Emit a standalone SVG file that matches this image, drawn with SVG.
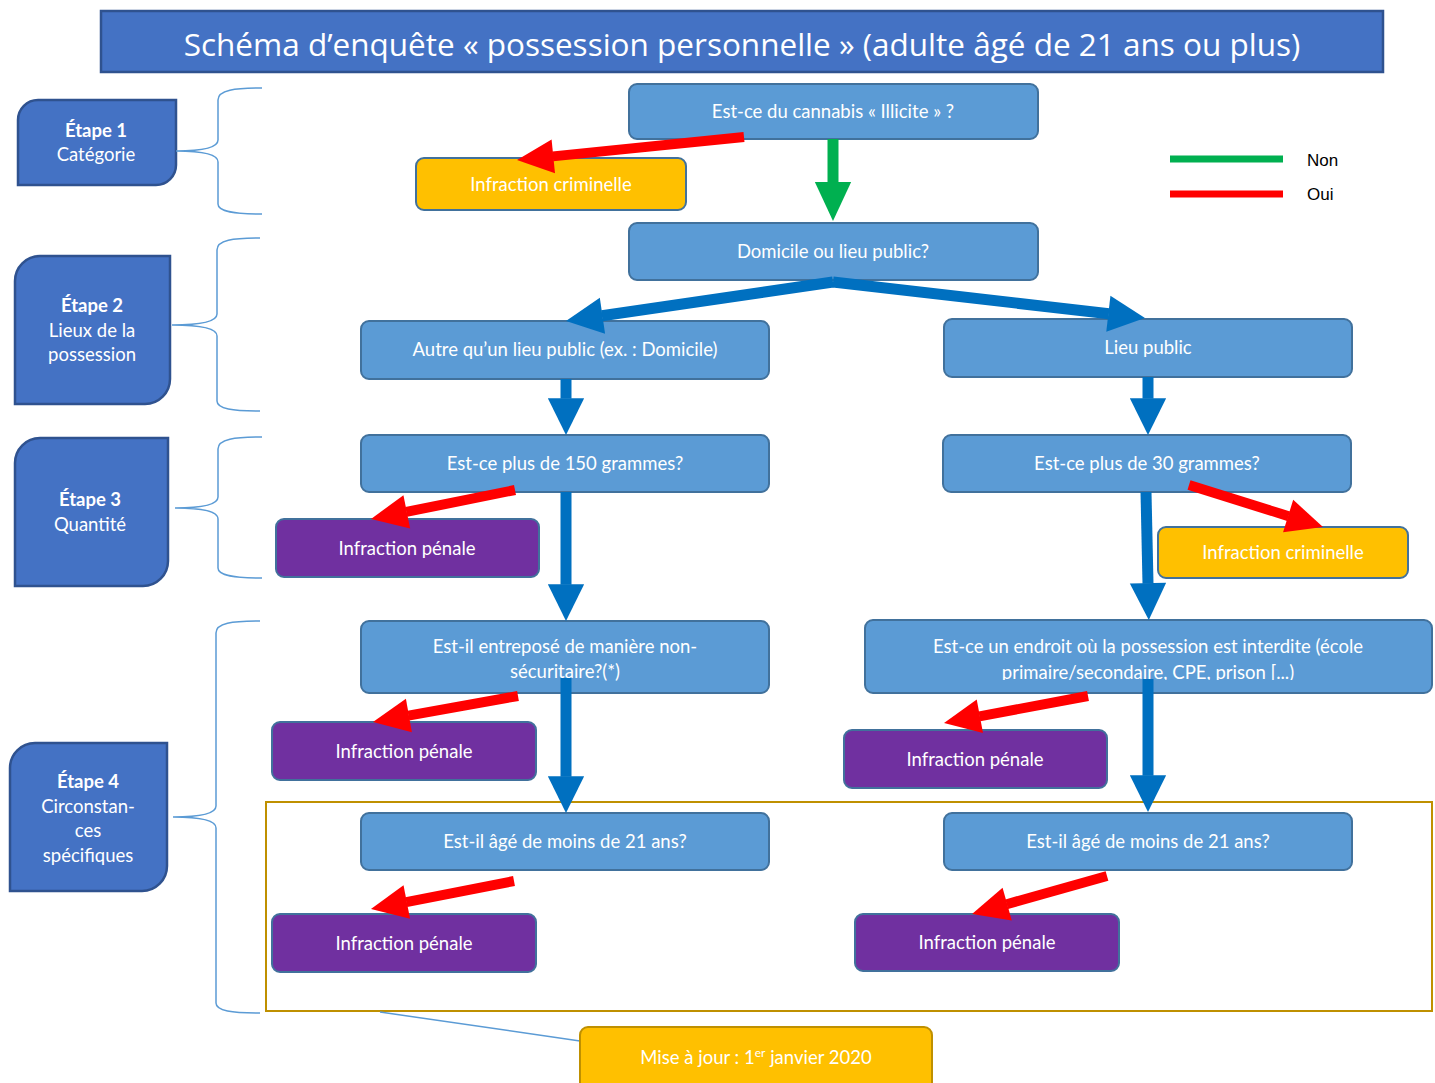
<svg xmlns="http://www.w3.org/2000/svg" width="1435" height="1083" viewBox="0 0 1435 1083">
<style>
.title{fill:#4472C4;stroke:#2F528F;stroke-width:2.5}
.step{fill:#4472C4;stroke:#2F528F;stroke-width:2.5}
.q{fill:#5B9BD5;stroke:#41719C;stroke-width:2}
.crim{fill:#FFC000;stroke:#41719C;stroke-width:2}
.pen{fill:#7030A0;stroke:#41719C;stroke-width:2}
.maj{fill:#FFC000;stroke:#BF9000;stroke-width:2}
.brace{fill:none;stroke:#5B9BD5;stroke-width:1.5}
.t{font-family:Lato,"Open Sans","Liberation Sans",sans-serif;font-size:18.5px;fill:#FFFFFF;text-anchor:middle}
.tb{font-weight:bold}
.tt{font-family:"Open Sans",Lato,"Liberation Sans",sans-serif;font-size:31.5px;fill:#FFFFFF;text-anchor:middle}
.leg{font-family:"Liberation Sans",Arial,sans-serif;font-size:17px;fill:#000000}
.red{stroke:#FF0000;stroke-width:10;fill:none}
.blue{stroke:#0070C0;stroke-width:11;fill:none}
.green{stroke:#00B050;stroke-width:11;fill:none}
</style>
<defs>
<marker id="hr" viewBox="0 -2 4 4" markerWidth="4" markerHeight="4" refX="0" refY="0" orient="auto" markerUnits="strokeWidth" overflow="visible"><path d="M-0.05,-1.7 L3.6,0 L-0.05,1.7 Z" fill="#FF0000"/></marker>
<marker id="hb" viewBox="0 -2 4 4" markerWidth="4" markerHeight="4" refX="0" refY="0" orient="auto" markerUnits="strokeWidth" overflow="visible"><path d="M-0.05,-1.65 L3.3,0 L-0.05,1.65 Z" fill="#0070C0"/></marker>
<marker id="hg" viewBox="0 -2 4 4" markerWidth="4" markerHeight="4" refX="0" refY="0" orient="auto" markerUnits="strokeWidth" overflow="visible"><path d="M-0.05,-1.65 L3.5,0 L-0.05,1.65 Z" fill="#00B050"/></marker>
<clipPath id="clipK"><rect x="865" y="620" width="567" height="60"/></clipPath>
</defs>

<g id="title">
<rect class="title" x="101" y="11" width="1282" height="61"/>
<text class="tt" x="742" y="56">Schéma d’enquête « possession personnelle » (adulte âgé de 21 ans ou plus)</text>
</g>

<g id="etape1">
<path class="step" d="M38,100 H176 V165 A20,20 0 0 1 156,185 H18 V120 A20,20 0 0 1 38,100 Z"/>
<text class="t" x="96" y="137"><tspan class="tb">Étape 1</tspan><tspan x="96" dy="24">Catégorie</tspan></text>
</g>
<g id="etape2">
<path class="step" d="M40,256 H170 V379 A25,25 0 0 1 145,404 H15 V281 A25,25 0 0 1 40,256 Z"/>
<text class="t" x="92" y="312"><tspan class="tb">Étape 2</tspan><tspan x="92" dy="24.5">Lieux de la</tspan><tspan x="92" dy="24.5">possession</tspan></text>
</g>
<g id="etape3">
<path class="step" d="M40,438 H168 V561 A25,25 0 0 1 143,586 H15 V463 A25,25 0 0 1 40,438 Z"/>
<text class="t" x="90" y="506"><tspan class="tb">Étape 3</tspan><tspan x="90" dy="24.5">Quantité</tspan></text>
</g>
<g id="etape4">
<path class="step" d="M35,743 H167 V866 A25,25 0 0 1 142,891 H10 V768 A25,25 0 0 1 35,743 Z"/>
<text class="t" x="88" y="788"><tspan class="tb">Étape 4</tspan><tspan x="88" dy="24.5">Circonstan-</tspan><tspan x="88" dy="24.5">ces</tspan><tspan x="88" dy="24.5">spécifiques</tspan></text>
</g>

<g id="braces">
<path class="brace" d="M262,88 C235,88 218,90 218,100 L218,140 C218,148 200,151 176,151 C200,151 218,154 218,162 L218,204 C218,212 235,214 262,214"/>
<path class="brace" d="M260,238 C233,238 217,240 217,250 L217,314 C217,322 199,325 172,325 C199,325 217,328 217,336 L217,401 C217,409 233,411 260,411"/>
<path class="brace" d="M262,437 C235,437 218,439 218,449 L218,497 C218,505 200,508 175,508 C200,508 218,511 218,519 L218,568 C218,576 235,578 262,578"/>
<path class="brace" d="M260,621 C232,621 216,623 216,633 L216,806 C216,814 198,817 173,817 C198,817 216,820 216,828 L216,1003 C216,1011 232,1013 260,1013"/>
</g>

<g id="legend">
<line x1="1170" y1="159" x2="1283" y2="159" stroke="#00B050" stroke-width="7"/>
<line x1="1170" y1="194" x2="1283" y2="194" stroke="#FF0000" stroke-width="7"/>
<text class="leg" x="1307" y="166">Non</text>
<text class="leg" x="1307" y="200">Oui</text>
</g>

<g id="zone-age">
<rect x="266" y="802" width="1166" height="209" fill="none" stroke="#BF9000" stroke-width="2"/>
</g>

<g id="n-cannabis">
<rect class="q" x="629" y="84" width="409" height="55" rx="8"/>
<text class="t" x="833" y="118">Est-ce du cannabis « Illicite » ?</text>
</g>
<g id="n-crim1">
<rect class="crim" x="416" y="158" width="270" height="52" rx="8"/>
<text class="t" x="551" y="191">Infraction criminelle</text>
</g>
<g id="n-domicile">
<rect class="q" x="629" y="223" width="409" height="57" rx="8"/>
<text class="t" x="833" y="258">Domicile ou lieu public?</text>
</g>
<g id="n-autre">
<rect class="q" x="361" y="321" width="408" height="58" rx="8"/>
<text class="t" x="565" y="356">Autre qu’un lieu public (ex. : Domicile)</text>
</g>
<g id="n-public">
<rect class="q" x="944" y="319" width="408" height="58" rx="8"/>
<text class="t" x="1148" y="354">Lieu public</text>
</g>
<g id="n-150g">
<rect class="q" x="361" y="435" width="408" height="57" rx="8"/>
<text class="t" x="565" y="470">Est-ce plus de 150 grammes?</text>
</g>
<g id="n-30g">
<rect class="q" x="943" y="435" width="408" height="57" rx="8"/>
<text class="t" x="1147" y="470">Est-ce plus de 30 grammes?</text>
</g>
<g id="n-pen1">
<rect class="pen" x="276" y="519" width="263" height="58" rx="8"/>
<text class="t" x="407" y="555">Infraction pénale</text>
</g>
<g id="n-crim2">
<rect class="crim" x="1158" y="527" width="250" height="51" rx="8"/>
<text class="t" x="1283" y="559">Infraction criminelle</text>
</g>
<g id="n-entrepose">
<rect class="q" x="361" y="621" width="408" height="72" rx="8"/>
<text class="t" x="565" y="653">Est-il entreposé de manière non-<tspan x="565" dy="24.5">sécuritaire?(*)</tspan></text>
</g>
<g id="n-interdit">
<rect class="q" x="865" y="620" width="567" height="73" rx="8"/>
<text class="t" x="1148" y="653" clip-path="url(#clipK)">Est-ce un endroit où la possession est interdite (école<tspan x="1148" dy="25.5">primaire/secondaire, CPE, prison [...)</tspan></text>
</g>
<g id="n-pen2">
<rect class="pen" x="272" y="722" width="264" height="58" rx="8"/>
<text class="t" x="404" y="758">Infraction pénale</text>
</g>
<g id="n-pen3">
<rect class="pen" x="844" y="730" width="263" height="58" rx="8"/>
<text class="t" x="975" y="766">Infraction pénale</text>
</g>
<g id="n-age1">
<rect class="q" x="361" y="813" width="408" height="57" rx="8"/>
<text class="t" x="565" y="848">Est-il âgé de moins de 21 ans?</text>
</g>
<g id="n-age2">
<rect class="q" x="944" y="813" width="408" height="57" rx="8"/>
<text class="t" x="1148" y="848">Est-il âgé de moins de 21 ans?</text>
</g>
<g id="n-pen4">
<rect class="pen" x="272" y="914" width="264" height="58" rx="8"/>
<text class="t" x="404" y="950">Infraction pénale</text>
</g>
<g id="n-pen5">
<rect class="pen" x="855" y="914" width="264" height="57" rx="8"/>
<text class="t" x="987" y="949">Infraction pénale</text>
</g>
<g id="n-maj">
<line x1="380" y1="1012" x2="580" y2="1041" stroke="#5B9BD5" stroke-width="1.5"/>
<rect class="maj" x="580" y="1027" width="352" height="70" rx="8"/>
<text class="t" x="756" y="1064">Mise à jour : 1<tspan font-size="12" dy="-7">er</tspan><tspan dy="7"> janvier 2020</tspan></text>
</g>

<g id="connectors">
<line class="green" x1="833" y1="139" x2="833" y2="182.5" marker-end="url(#hg)"/>
<line class="red" x1="744" y1="137" x2="552.8" y2="156.4" marker-end="url(#hr)"/>
<line class="blue" x1="833" y1="282" x2="601.9" y2="315.8" marker-end="url(#hb)"/>
<line class="blue" x1="833" y1="282" x2="1108.9" y2="313.8" marker-end="url(#hb)"/>
<line class="blue" x1="566" y1="379" x2="566" y2="398.7" marker-end="url(#hb)"/>
<line class="blue" x1="1148" y1="377" x2="1148" y2="398.7" marker-end="url(#hb)"/>
<line class="blue" x1="566" y1="492" x2="566" y2="584.7" marker-end="url(#hb)"/>
<line class="blue" x1="1146" y1="492" x2="1148" y2="583.7" marker-end="url(#hb)"/>
<line class="red" x1="515" y1="490" x2="406.3" y2="511.9" marker-end="url(#hr)"/>
<line class="red" x1="1189" y1="485" x2="1288.6" y2="516.2" marker-end="url(#hr)"/>
<line class="blue" x1="566" y1="678" x2="566" y2="776.7" marker-end="url(#hb)"/>
<line class="blue" x1="1148" y1="679" x2="1148" y2="775.7" marker-end="url(#hb)"/>
<line class="red" x1="518" y1="696" x2="408.4" y2="715.6" marker-end="url(#hr)"/>
<line class="red" x1="1088" y1="696" x2="979.4" y2="716.4" marker-end="url(#hr)"/>
<line class="red" x1="514" y1="881" x2="406.3" y2="902.1" marker-end="url(#hr)"/>
<line class="red" x1="1107" y1="876" x2="1006.7" y2="904.2" marker-end="url(#hr)"/>
</g>
</svg>
